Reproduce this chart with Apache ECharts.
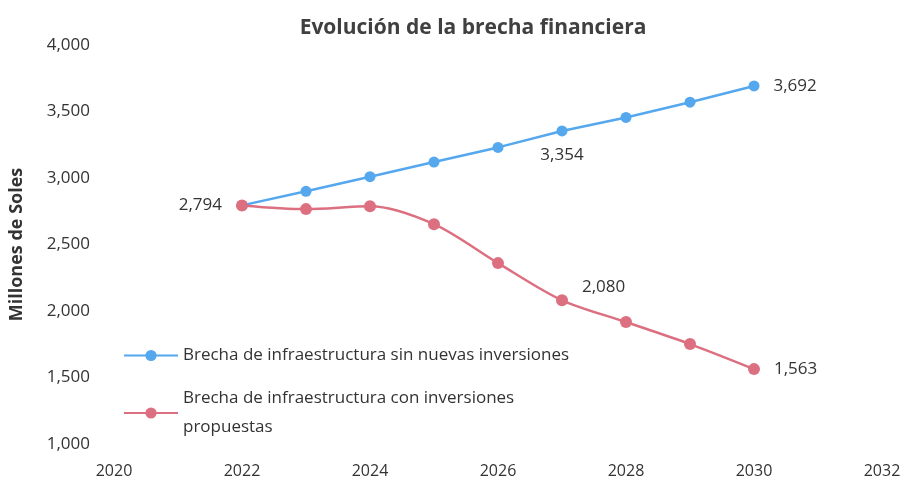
<!DOCTYPE html>
<html>
<head>
<meta charset="utf-8">
<script src="https://cdn.jsdelivr.net/npm/echarts@6/dist/echarts.min.js"></script>
<style>
  html, body { margin: 0; padding: 0; background: #fff; }
  #chart { width: 906px; height: 484px; }
</style>
</head>
<body>
<div id="chart"></div>
<script>
// años y valores (millones de soles)
var years = [2022, 2023, 2024, 2025, 2026, 2027, 2028, 2029, 2030];
var sinInversiones = [2794, 2900, 3010, 3120, 3230, 3354, 3455, 3570, 3692];
var conInversiones = [2794, 2766, 2788, 2653, 2360, 2080, 1917, 1751, 1563];
var nombres = [
    'Brecha de infraestructura sin nuevas inversiones',
    'Brecha de infraestructura con inversiones\npropuestas'
];

var font = '"Open Sans", "Noto Sans", sans-serif';

// which points carry a value label, and where
var blueLabels = { 5: 'bottom', 8: 'right' };
var redLabels = { 0: 'left', 5: 'upRight', 8: 'right' };

function buildData(vals, labels) {
    return vals.map(function (v, i) {
        var item = { value: [years[i], v] };
        if (labels[i]) {
            var pos = labels[i];
            item.label = {
                show: true,
                position: pos === 'upRight' ? 'right' : pos,
                distance: pos === 'bottom' ? 10 : 14,
                offset: pos === 'upRight' ? [0, -13] : [0, 0]
            };
        }
        return item;
    });
}

var fmt = function (v) { return v.toLocaleString('en-US'); };

var myChart = echarts.init(document.getElementById('chart'));
var option = {
    title: {
        text: 'Evolución de la brecha financiera',
        left: 468,
        textAlign: 'center',
        top: 13,
        textStyle: { fontFamily: font, fontSize: 21, fontWeight: 'bold', color: '#404040' }
    },
    grid: { left: 112, right: 24, top: 45, bottom: 40 },
    legend: {
        orient: 'vertical',
        left: 118,
        top: 336,
        itemGap: 14,
        itemWidth: 54,
        itemHeight: 14,
        textStyle: { fontFamily: font, fontSize: 17, color: '#333', lineHeight: 29 },
        data: nombres
    },
    xAxis: {
        type: 'value',
        min: 2020,
        max: 2032,
        interval: 2,
        axisLine: { show: false },
        axisTick: { show: false },
        splitLine: { show: false },
        axisLabel: { fontFamily: font, fontSize: 16, color: '#333', margin: 19, formatter: function (v) { return String(v); } }
    },
    yAxis: {
        type: 'value',
        min: 1000,
        max: 4000,
        interval: 500,
        name: 'Millones de Soles',
        nameLocation: 'middle',
        nameGap: 88,
        nameTextStyle: { fontFamily: font, fontSize: 18, fontWeight: 'bold', color: '#333' },
        axisLine: { show: false },
        axisTick: { show: false },
        splitLine: { show: false },
        axisLabel: { fontFamily: font, fontSize: 17, color: '#333', margin: 24, formatter: fmt }
    },
    series: [
        {
            name: nombres[0],
            type: 'line',
            data: buildData(sinInversiones, blueLabels),
            symbol: 'circle',
            symbolSize: 11,
            color: '#55a7ee',
            lineStyle: { width: 2.5 },
            label: {
                show: false,
                fontFamily: font, fontSize: 17, color: '#333',
                formatter: function (p) { return fmt(p.value[1]); }
            }
        },
        {
            name: nombres[1],
            type: 'line',
            data: buildData(conInversiones, redLabels),
            smooth: 0.3,
            symbol: 'circle',
            symbolSize: 12,
            color: '#dc6f80',
            lineStyle: { width: 2.5 },
            label: {
                show: false,
                fontFamily: font, fontSize: 17, color: '#333',
                formatter: function (p) { return fmt(p.value[1]); }
            }
        }
    ]
};
myChart.setOption(option);
</script>
</body>
</html>
